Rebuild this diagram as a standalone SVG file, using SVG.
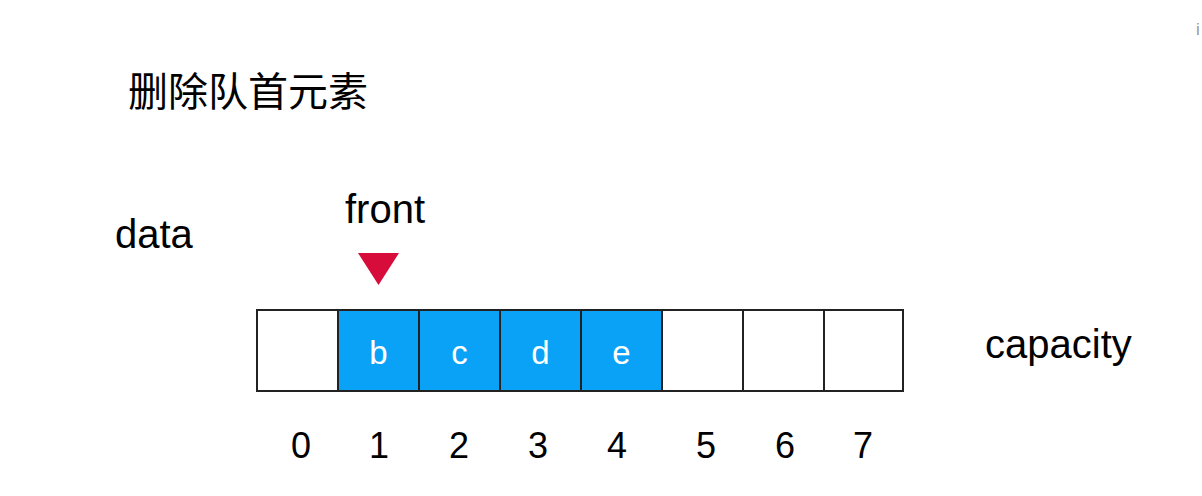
<svg xmlns="http://www.w3.org/2000/svg" width="1202" height="496" viewBox="0 0 1202 496">
<style>
.t{font-family:"Liberation Sans","Noto Sans",sans-serif;fill:#000;}
.lbl{font-size:40px;}
.idx{font-size:36px;text-anchor:middle;}
.cell{stroke:#222;stroke-width:2;}
.empty{fill:#fff;}
.full{fill:#0aa2f6;}
.v{font-family:"Liberation Sans","Noto Sans",sans-serif;font-size:33px;fill:#fff;text-anchor:middle;}
</style>
<rect width="1202" height="496" fill="#fff"/>
<text x="128" y="106" style="font-family:'Noto Sans CJK SC','Noto Sans',sans-serif;font-size:40px;fill:#000">删除队首元素</text>
<text x="1196" y="35" style="font-family:'Liberation Sans',sans-serif;font-size:17px;fill:#999">i</text>
<g id="data-label"><text class="t lbl" x="115" y="248">data</text></g>
<g id="front">
<text class="t lbl" x="345" y="223">front</text>
<polygon points="358,253 399,253 378.5,285" fill="#d70c3a"/>
</g>
<g id="array">
<g id="cell0"><rect class="cell empty" x="257" y="310" width="81" height="81"/></g>
<g id="cell1"><rect class="cell full" x="338" y="310" width="81" height="81"/><text class="v" x="378.5" y="364">b</text></g>
<g id="cell2"><rect class="cell full" x="419" y="310" width="81" height="81"/><text class="v" x="459.5" y="364">c</text></g>
<g id="cell3"><rect class="cell full" x="500" y="310" width="81" height="81"/><text class="v" x="540.5" y="364">d</text></g>
<g id="cell4"><rect class="cell full" x="581" y="310" width="81" height="81"/><text class="v" x="621.5" y="364">e</text></g>
<g id="cell5"><rect class="cell empty" x="662" y="310" width="81" height="81"/></g>
<g id="cell6"><rect class="cell empty" x="743" y="310" width="81" height="81"/></g>
<g id="cell7"><rect class="cell empty" x="824" y="310" width="79" height="81"/></g>
</g>
<g id="capacity-label"><text class="t lbl" x="985" y="358">capacity</text></g>
<g id="indices">
<text class="t idx" x="301" y="458">0</text>
<text class="t idx" x="379" y="458">1</text>
<text class="t idx" x="459" y="458">2</text>
<text class="t idx" x="538" y="458">3</text>
<text class="t idx" x="617" y="458">4</text>
<text class="t idx" x="706" y="458">5</text>
<text class="t idx" x="785" y="458">6</text>
<text class="t idx" x="863" y="458">7</text>
</g>
<g id="connectors"></g>
</svg>
